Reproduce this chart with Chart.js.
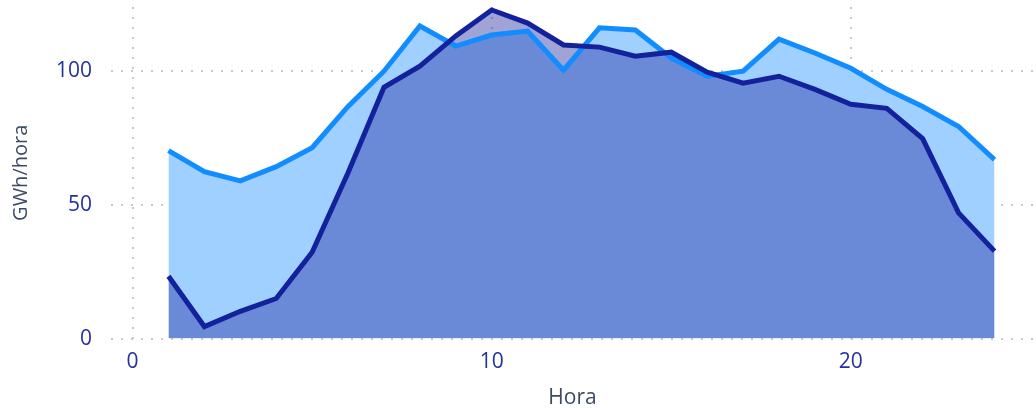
<!DOCTYPE html>
<html>
<head>
<meta charset="utf-8">
<script src="https://cdn.jsdelivr.net/npm/chart.js@4/dist/chart.umd.min.js"></script>
<style>
  html, body { margin: 0; padding: 0; background: #fff; }
  #wrap { width: 1036px; height: 408px; }
</style>
</head>
<body>
<div id="wrap"><canvas id="graf"></canvas></div>
<script>
// horas del dia
var horas = [1,2,3,4,5,6,7,8,9,10,11,12,13,14,15,16,17,18,19,20,21,22,23,24];
// serie clara (azul)
var serieClara = [70.3,62.4,59.0,64.3,71.4,86.8,100,116.9,109.4,113.5,115,100.4,116.2,115.4,104.9,98.1,100,112,106.8,101.1,93.2,86.8,79.3,66.9];
// serie oscura (marino)
var serieOscura = [23.3,4.5,10.2,15,32.3,62,94,101.9,113.2,122.9,118,109.8,109,105.6,107.1,99.6,95.5,98.1,93.2,87.6,86.1,74.8,47,32.7];
var xTicks = [0,10,20];
var yTicks = [0,50,100];

function puntos(vals){
  return horas.map(function(h,i){ return {x:h, y:vals[i]}; });
}

var fuente = "'Open Sans', 'Noto Sans', sans-serif";
var grid = {
  color: '#c8c8c8',
  lineWidth: 2,
  drawTicks: false
};

var ctx = document.getElementById('graf').getContext('2d');
var grafico = new Chart(ctx, {
  type: 'line',
  data: {
    datasets: [
      {
        label: 'Oscura',
        data: puntos(serieOscura),
        borderColor: '#13229c',
        backgroundColor: 'rgba(38,45,161,0.44)',
        borderWidth: 5,
        pointRadius: 0,
        fill: 'origin',
        tension: 0
      },
      {
        label: 'Clara',
        data: puntos(serieClara),
        borderColor: '#118dff',
        backgroundColor: '#9fd0ff',
        borderWidth: 5,
        pointRadius: 0,
        fill: 'origin',
        tension: 0
      }
    ]
  },
  options: {
    responsive: true,
    maintainAspectRatio: false,
    animation: false,
    layout: { padding: { top: 7, right: 2, left: 9, bottom: -3 } },
    plugins: {
      legend: { display: false },
      tooltip: { enabled: false },
      filler: { drawTime: 'beforeDatasetsDraw' }
    },
    scales: {
      x: {
        type: 'linear',
        min: -0.6,
        max: 25.1,
        afterBuildTicks: function(ax){ ax.ticks = xTicks.map(function(v){ return {value:v}; }); },
        afterFit: function(ax){ ax.paddingLeft = 0; ax.paddingRight = 0; },
        grid: grid,
        border: { display: false, dash: [2,8] },
        ticks: { color: '#2331a0', font: { family: fuente, size: 21 }, padding: 11, maxRotation: 0 },
        title: { display: true, text: 'Hora', color: '#3d4a66', font: { family: fuente, size: 21 }, padding: { top: 0, bottom: 0 } }
      },
      y: {
        min: 0,
        max: 124,
        afterBuildTicks: function(ax){ ax.ticks = yTicks.map(function(v){ return {value:v}; }); },
        afterFit: function(ax){ ax.paddingTop = 0; ax.paddingBottom = 0; },
        grid: grid,
        border: { display: false, dash: [2,8] },
        ticks: { color: '#2331a0', font: { family: fuente, size: 21 }, padding: 19 },
        title: { display: true, text: 'GWh/hora', color: '#3d4a66', font: { family: fuente, size: 20 }, padding: { top: 0, bottom: 4 } }
      }
    }
  }
});
</script>
</body>
</html>
